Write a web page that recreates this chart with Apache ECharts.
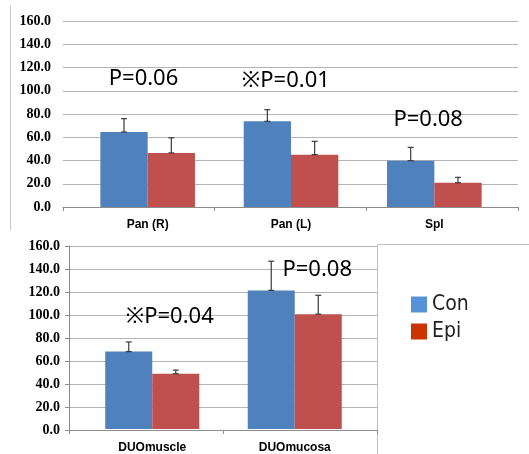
<!DOCTYPE html>
<html>
<head>
<meta charset="utf-8">
<script src="https://cdn.jsdelivr.net/npm/echarts@6/dist/echarts.min.js"></script>
<style>html,body{margin:0;padding:0;background:#fff;}#c{width:529px;height:454px;}</style>
</head>
<body>
<div id="c"></div>
<script>
// ---- data ----
const categoriesTop = ['Pan (R)', 'Pan (L)', 'Spl'];
const conTop = [64.5, 73.7, 39.8];
const epiTop = [46.5, 45.0, 20.9];
const conTopErr = [11.5, 10.0, 11.5];
const epiTopErr = [13.0, 11.5, 4.6];
const categoriesBottom = ['DUOmuscle', 'DUOmucosa'];
const conBottom = [67.7, 121.2];
const epiBottom = [48.3, 100.4];
const conBottomErr = [8.4, 25.5];
const epiBottomErr = [3.2, 16.5];
const yMin = 0, yMax = 160, yStep = 20;
const noteTopText = ['P=0.06', '※P=0.01', 'P=0.08'];
const noteTopY = [110, 109, 75];
const noteBottomText = ['※P=0.04', 'P=0.08'];
const noteBottomY = [98.4, 139];

// ---- styles ----
const BLUE = '#4f81bd', RED = '#c0504d';
const GAP = 0.34;
const noteTopDx = [19.5, 18.5, 17.5];
const noteBottomDx = [41, 46];

const chart = echarts.init(document.getElementById('c'));

function errSeries(name, vals, errs, side, xi, yi) {
  return {
    type: 'custom', name: name + ' err', xAxisIndex: xi, yAxisIndex: yi, z: 5,
    data: vals.map((v, i) => [i, v, errs[i]]),
    renderItem: function (params, api) {
      const i = api.value(0), v = api.value(1), e = api.value(2);
      const band = api.size([1, 0])[0];
      const barW = band * (1 - GAP) / 2;
      const p0 = api.coord([i, v]);
      const p1 = api.coord([i, v + e]);
      const x = p0[0] + side * barW / 2;
      const cw = 3;
      const st = { stroke: '#3a3a3a', lineWidth: 1.2 };
      return { type: 'group', children: [
        { type: 'line', shape: { x1: x, y1: p0[1], x2: x, y2: p1[1] }, style: st },
        { type: 'line', shape: { x1: x - cw, y1: p1[1], x2: x + cw, y2: p1[1] }, style: st },
        { type: 'line', shape: { x1: x - cw, y1: p0[1], x2: x + cw, y2: p0[1] }, style: st }
      ]};
    }
  };
}

function notes(cats, texts, ys, dxs) {
  return {
    symbol: 'rect', symbolSize: 0, silent: true,
    label: { show: true, position: 'inside', formatter: '{b}', color: '#000',
      fontFamily: "'Noto Sans', 'Noto Sans CJK JP'", fontSize: 22 },
    data: texts.map((t, i) => ({ name: t, coord: [cats[i], ys[i]], label: { offset: [dxs[i], 0] } }))
  };
}

const yLabel = { fontFamily: "'Liberation Serif'", fontWeight: 'bold', fontSize: 14, color: '#000' };
const xLabel = { fontFamily: "'Liberation Sans'", fontWeight: 'bold', fontSize: 12, color: '#000' };
const gridLine = { lineStyle: { color: '#b4b4b4', width: 1 } };
const axisLn = { show: true, lineStyle: { color: '#8c8c8c' } };

chart.setOption({
  animation: false,
  backgroundColor: '#fff',
  grid: [
    { left: 63, right: 11, top: 21, height: 186 },
    { left: 76, right: 23, top: 21, height: 186 },
    { left: 69, right: 152, top: 246, height: 184 },
    { left: 81, right: 163, top: 246, height: 184 }
  ],
  xAxis: [
    { gridIndex: 0, type: 'category', data: categoriesTop, axisLabel: { show: false },
      axisLine: axisLn, axisTick: { show: true, length: 4, lineStyle: { color: '#8c8c8c' } } },
    { gridIndex: 1, type: 'category', data: categoriesTop, axisLine: { show: false },
      axisTick: { show: false }, axisLabel: Object.assign({ margin: 12 }, xLabel) },
    { gridIndex: 2, type: 'category', data: categoriesBottom, axisLabel: { show: false },
      axisLine: axisLn, axisTick: { show: true, length: 4, lineStyle: { color: '#8c8c8c' } } },
    { gridIndex: 3, type: 'category', data: categoriesBottom, axisLine: { show: false },
      axisTick: { show: false }, axisLabel: Object.assign({ margin: 13 }, xLabel) }
  ],
  yAxis: [
    { gridIndex: 0, type: 'value', min: yMin, max: yMax, interval: yStep,
      axisLabel: Object.assign({ margin: 12, formatter: v => v.toFixed(1) }, yLabel),
      axisLine: { show: false }, axisTick: { show: false }, splitLine: gridLine },
    { gridIndex: 1, type: 'value', min: yMin, max: yMax, interval: yStep, show: false },
    { gridIndex: 2, type: 'value', min: yMin, max: yMax, interval: yStep,
      axisLabel: Object.assign({ margin: 9, formatter: v => v.toFixed(1) }, yLabel),
      axisLine: axisLn, axisTick: { show: true, length: 4, lineStyle: { color: '#8c8c8c' } }, splitLine: gridLine },
    { gridIndex: 3, type: 'value', min: yMin, max: yMax, interval: yStep, show: false }
  ],
  legend: {
    orient: 'vertical', left: 411, top: 294, padding: 0,
    itemWidth: 16, itemHeight: 16, itemGap: 6, icon: 'rect',
    textStyle: { fontFamily: "'Liberation Sans Narrow', 'DejaVu Sans Condensed', 'Liberation Sans'", fontSize: 21, color: '#222' },
    data: [ { name: 'Con', itemStyle: { color: '#5592d8' } }, { name: 'Epi', itemStyle: { color: '#cc3300' } } ]
  },
  series: [
    { type: 'bar', name: 'Con', xAxisIndex: 1, yAxisIndex: 1, data: conTop, barGap: '0%', barCategoryGap: '34%',
      itemStyle: { color: BLUE }, markPoint: notes(categoriesTop, noteTopText, noteTopY, noteTopDx) },
    { type: 'bar', name: 'Epi', xAxisIndex: 1, yAxisIndex: 1, data: epiTop, barGap: '0%', barCategoryGap: '34%',
      itemStyle: { color: RED } },
    errSeries('Con', conTop, conTopErr, -1, 1, 1),
    errSeries('Epi', epiTop, epiTopErr, 1, 1, 1),
    { type: 'bar', name: 'Con', xAxisIndex: 3, yAxisIndex: 3, data: conBottom, barGap: '0%', barCategoryGap: '34%',
      itemStyle: { color: BLUE }, markPoint: notes(categoriesBottom, noteBottomText, noteBottomY, noteBottomDx) },
    { type: 'bar', name: 'Epi', xAxisIndex: 3, yAxisIndex: 3, data: epiBottom, barGap: '0%', barCategoryGap: '34%',
      itemStyle: { color: RED } },
    errSeries('Con', conBottom, conBottomErr, -1, 3, 3),
    errSeries('Epi', epiBottom, epiBottomErr, 1, 3, 3)
  ],
  graphic: [
    { type: 'line', shape: { x1: 10.5, y1: 5, x2: 10.5, y2: 230 }, style: { stroke: '#c8c8c8', lineWidth: 1 } },
    { type: 'line', shape: { x1: 377.5, y1: 244.5, x2: 529, y2: 244.5 }, style: { stroke: '#c0c0c0', lineWidth: 1 } },
    { type: 'line', shape: { x1: 377.5, y1: 244.5, x2: 377.5, y2: 454 }, style: { stroke: '#c0c0c0', lineWidth: 1 } }
  ]
});
</script>
</body>
</html>
